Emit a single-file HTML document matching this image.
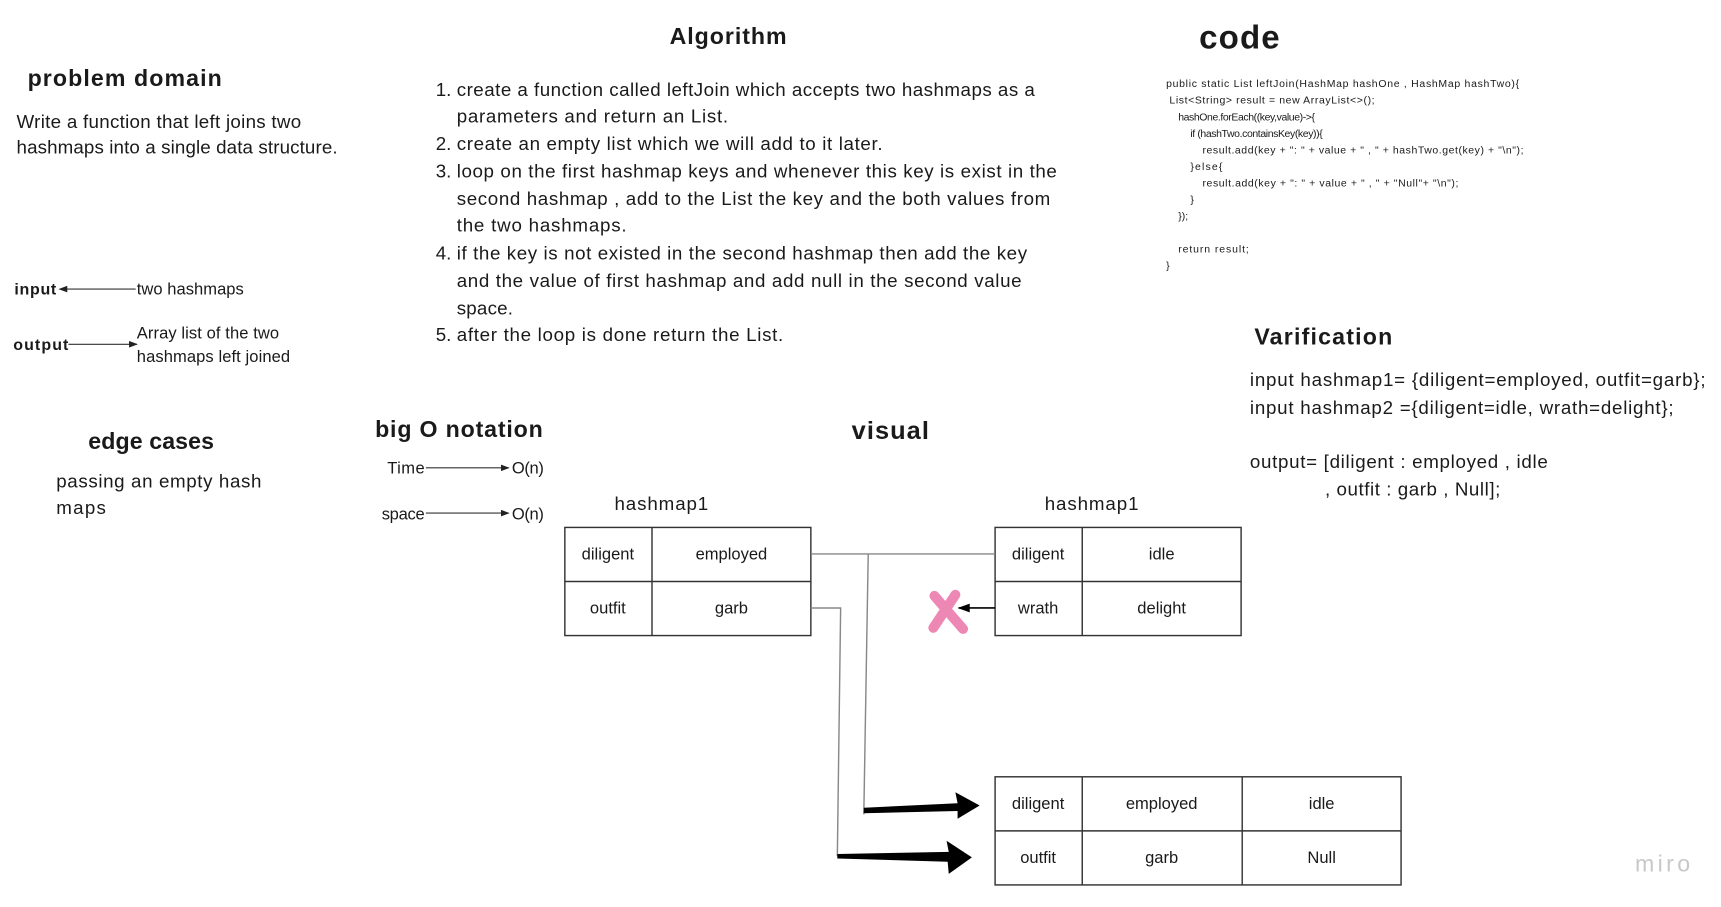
<!DOCTYPE html>
<html><head><meta charset="utf-8"><style>
html,body{margin:0;padding:0;background:#fff;}
svg{display:block;}
text{font-family:"Liberation Sans",sans-serif;fill:#1a1a1a;}
.b{font-weight:bold;}
</style></head><body>
<svg width="1721" height="907" viewBox="0 0 1560 822" preserveAspectRatio="none" xmlns="http://www.w3.org/2000/svg">
<defs>
<marker id="ah" markerWidth="8" markerHeight="6" refX="7" refY="3" orient="auto" markerUnits="userSpaceOnUse"><path d="M0,0 L8,3 L0,6 z" fill="#222"/></marker>
</defs>
<rect width="1560" height="822" fill="#fff"/>

<!-- problem domain -->
<text x="25" y="78" class="b" font-size="21" textLength="176">problem domain</text>
<text x="15" y="116" font-size="17" textLength="258">Write a function that left joins two</text>
<text x="15" y="139" font-size="17" textLength="291">hashmaps into a single data structure.</text>

<text x="13" y="267" class="b" font-size="14.5" textLength="38">input</text>
<line x1="123" y1="262" x2="54" y2="262" stroke="#333" stroke-width="1" marker-end="url(#ah)"/>
<text x="124" y="267" font-size="15" textLength="97">two hashmaps</text>
<text x="12" y="317" class="b" font-size="14.5" textLength="50">output</text>
<line x1="62" y1="312" x2="124" y2="312" stroke="#333" stroke-width="1" marker-end="url(#ah)"/>
<text x="124" y="307" font-size="15" textLength="129">Array list of the two</text>
<text x="124" y="328" font-size="15" textLength="139">hashmaps left joined</text>

<text x="80" y="407" class="b" font-size="21" textLength="114">edge cases</text>
<text x="51" y="442" font-size="17" textLength="186">passing an empty hash</text>
<text x="51" y="466" font-size="17" textLength="45">maps</text>

<!-- algorithm -->
<text x="607" y="40" class="b" font-size="21" textLength="106">Algorithm</text>
<g font-size="17">
<text x="395" y="87">1.</text><text x="414" y="87" textLength="524">create a function called leftJoin which accepts two hashmaps as a</text>
<text x="414" y="111" textLength="246">parameters and return an List.</text>
<text x="395" y="136">2.</text><text x="414" y="136" textLength="386">create an empty list which we will add to it later.</text>
<text x="395" y="161">3.</text><text x="414" y="161" textLength="544">loop on the first hashmap keys and whenever this key is exist in the</text>
<text x="414" y="186" textLength="538">second hashmap , add to the List the key and the both values from</text>
<text x="414" y="210" textLength="154">the two hashmaps.</text>
<text x="395" y="235">4.</text><text x="414" y="235" textLength="517">if the key is not existed in the second hashmap then add the key</text>
<text x="414" y="260" textLength="512">and the value of first hashmap and add null in the second value</text>
<text x="414" y="285" textLength="51">space.</text>
<text x="395" y="309">5.</text><text x="414" y="309" textLength="296">after the loop is done return the List.</text>
</g>

<!-- code -->
<text x="1087" y="44" class="b" font-size="30" textLength="73">code</text>
<g font-size="9.5">
<text x="1057" y="79" textLength="320">public static List leftJoin(HashMap hashOne , HashMap hashTwo){</text>
<text x="1060" y="94" textLength="186"> List&lt;String&gt; result = new ArrayList&lt;&gt;();</text>
<text x="1068" y="109" textLength="124">hashOne.forEach((key,value)-&gt;{</text>
<text x="1079" y="124" textLength="120">if (hashTwo.containsKey(key)){</text>
<text x="1090" y="139" textLength="291">result.add(key + ": " + value + " , " + hashTwo.get(key) + "\n");</text>
<text x="1079" y="154" textLength="29">}else{</text>
<text x="1090" y="169" textLength="232">result.add(key + ": " + value + " , " + "Null"+ "\n");</text>
<text x="1079" y="184">}</text>
<text x="1068" y="199">});</text>
<text x="1068" y="229" textLength="64">return result;</text>
<text x="1057" y="244">}</text>
</g>

<!-- verification -->
<text x="1137" y="312" class="b" font-size="21" textLength="125">Varification</text>
<g font-size="17">
<text x="1133" y="350" textLength="413">input hashmap1= {diligent=employed, outfit=garb};</text>
<text x="1133" y="375" textLength="384">input hashmap2 ={diligent=idle, wrath=delight};</text>
<text x="1133" y="424" textLength="270">output= [diligent : employed , idle</text>
<text x="1201" y="449" textLength="159">, outfit : garb , Null];</text>
</g>

<!-- big O -->
<text x="340" y="396" class="b" font-size="21" textLength="152">big O notation</text>
<text x="351" y="429" font-size="15" textLength="34">Time</text>
<line x1="386" y1="424" x2="461" y2="424" stroke="#333" marker-end="url(#ah)"/>
<text x="464" y="429" font-size="15" textLength="29">O(n)</text>
<text x="346" y="471" font-size="15" textLength="39">space</text>
<line x1="386" y1="465" x2="461" y2="465" stroke="#333" marker-end="url(#ah)"/>
<text x="464" y="471" font-size="15" textLength="29">O(n)</text>

<!-- visual -->
<text x="772" y="398" class="b" font-size="23" textLength="70">visual</text>
<text x="557" y="462" font-size="17" textLength="85">hashmap1</text>
<text x="947" y="462" font-size="17" textLength="85">hashmap1</text>

<g fill="none" stroke="#333" stroke-width="1.3">
<rect x="512" y="478" width="223" height="98"/>
<line x1="591" y1="478" x2="591" y2="576"/><line x1="512" y1="527" x2="735" y2="527"/>
<rect x="902" y="478" width="223" height="98"/>
<line x1="981" y1="478" x2="981" y2="576"/><line x1="902" y1="527" x2="1125" y2="527"/>
<rect x="902" y="704" width="368" height="98"/>
<line x1="981" y1="704" x2="981" y2="802"/><line x1="1126" y1="704" x2="1126" y2="802"/><line x1="902" y1="753" x2="1270" y2="753"/>
</g>
<g font-size="15" text-anchor="middle">
<text x="551" y="507">diligent</text><text x="663" y="507">employed</text>
<text x="551" y="556">outfit</text><text x="663" y="556">garb</text>
<text x="941" y="507">diligent</text><text x="1053" y="507">idle</text>
<text x="941" y="556">wrath</text><text x="1053" y="556">delight</text>
<text x="941" y="733">diligent</text><text x="1053" y="733">employed</text><text x="1198" y="733">idle</text>
<text x="941" y="782">outfit</text><text x="1053" y="782">garb</text><text x="1198" y="782">Null</text>
</g>

<!-- connectors -->
<g fill="none" stroke="#888" stroke-width="1.3">
<polyline points="735,502 902,502"/>
<polyline points="787,502 783,738"/>
<polyline points="735,551 762,551 759,776"/>
</g>
<path d="M783,732 L868,728 L866,718 L888,730 L868,742 L868,735 L783,737 z" fill="#000"/>
<path d="M759,774 L860,772 L858,762 L881,777 L860,792 L859,781 L759,778 z" fill="#000"/>

<!-- pink X -->
<g stroke="#e7609a" stroke-width="9" stroke-linecap="round" opacity="0.75">
<line x1="847" y1="540" x2="873" y2="570"/>
<line x1="866" y1="539" x2="846" y2="569"/>
</g>
<line x1="902" y1="551" x2="869" y2="551" stroke="#000" stroke-width="1.5"/>
<path d="M868,551 L879,547 L879,555 z" fill="#000"/>

<text x="1482" y="790" font-size="21" fill="#c8c8c8" style="fill:#c8c8c8" textLength="50">miro</text>
</svg>
</body></html>
